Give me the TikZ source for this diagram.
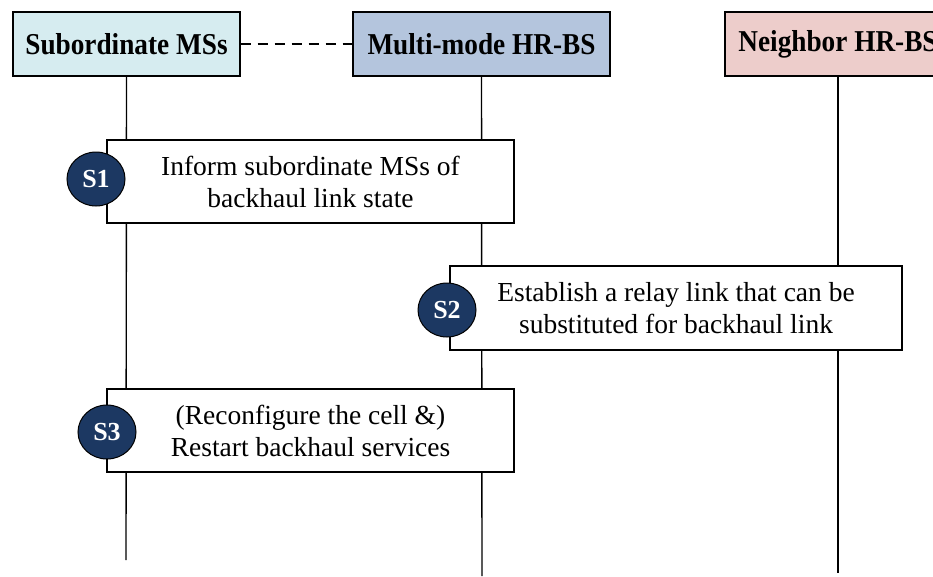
\documentclass[tikz,border=0pt]{standalone}
\usepackage{fontspec}
\setmainfont{Liberation Serif}
\usetikzlibrary{shapes.geometric}
\definecolor{msfill}{HTML}{D6ECF0}
\definecolor{bsfill}{HTML}{B4C5DD}
\definecolor{nbfill}{HTML}{EDCDCB}
\definecolor{badgefill}{HTML}{1C3862}
% narrow bold heading text
\newcommand{\headtext}[1]{\scalebox{0.9}[1]{#1}}
\begin{document}
\begin{tikzpicture}[x=1pt,y=-1pt,
  head/.style={draw=black, line width=1.2pt, minimum height=64pt, inner sep=0pt,
    font=\fontsize{30.3}{34}\selectfont\bfseries},
  lifeline/.style={line width=1.4pt, draw=black},
  stepbox/.style={draw=black, line width=1.2pt, fill=white, inner sep=0pt, align=center,
    font=\fontsize{27.5}{32}\selectfont},
  badge/.style={ellipse, draw=black, line width=1pt, fill=badgefill, text=white, inner sep=0pt,
    minimum width=58pt, minimum height=54pt, font=\fontsize{26}{30}\selectfont\bfseries}]
  \useasboundingbox (0,0) rectangle (933,576);
  \clip (0,0) rectangle (933,576);

  % participants
  \node[head, fill=msfill, minimum width=227pt] (ms) at (126.5,44) {\headtext{Subordinate MSs}};
  \node[head, fill=bsfill, minimum width=257pt] (bs) at (481.5,44) {\headtext{Multi-mode HR-BS}};
  \node[head, fill=nbfill, minimum width=226pt] (nb) at (838,44) {\headtext{Neighbor HR-BS}};

  % association between the MSs and their base station
  \draw[line width=1.2pt, dash pattern=on 10pt off 7pt] (ms.east) -- (bs.east -| bs.west);

  % lifelines
  \coordinate (msEnd) at (126,560);
  \coordinate (bsEnd) at (482,576);
  \coordinate (nbEnd) at (838,573);
  \draw[lifeline] (ms.south) -- (msEnd);
  \draw[lifeline] (bs.south) -- (bsEnd);
  \draw[lifeline] (nb.south) -- (nbEnd);

  % procedure steps
  \node[stepbox, minimum width=407pt, minimum height=83pt] (s1box) at (310.5,181.5)
    {Inform subordinate MSs of\\backhaul link state};
  \node[stepbox, minimum width=452pt, minimum height=84pt] (s2box) at (676,308)
    {Establish a relay link that can be\\substituted for backhaul link};
  \node[stepbox, minimum width=407pt, minimum height=83pt] (s3box) at (310.5,430.5)
    {(Reconfigure the cell \&)\\Restart backhaul services};

  % step badges
  \node[badge] (s1) at (96,179) {S1};
  \node[badge] (s2) at (447,310) {S2};
  \node[badge] (s3) at (107,432) {S3};
\end{tikzpicture}
\end{document}
